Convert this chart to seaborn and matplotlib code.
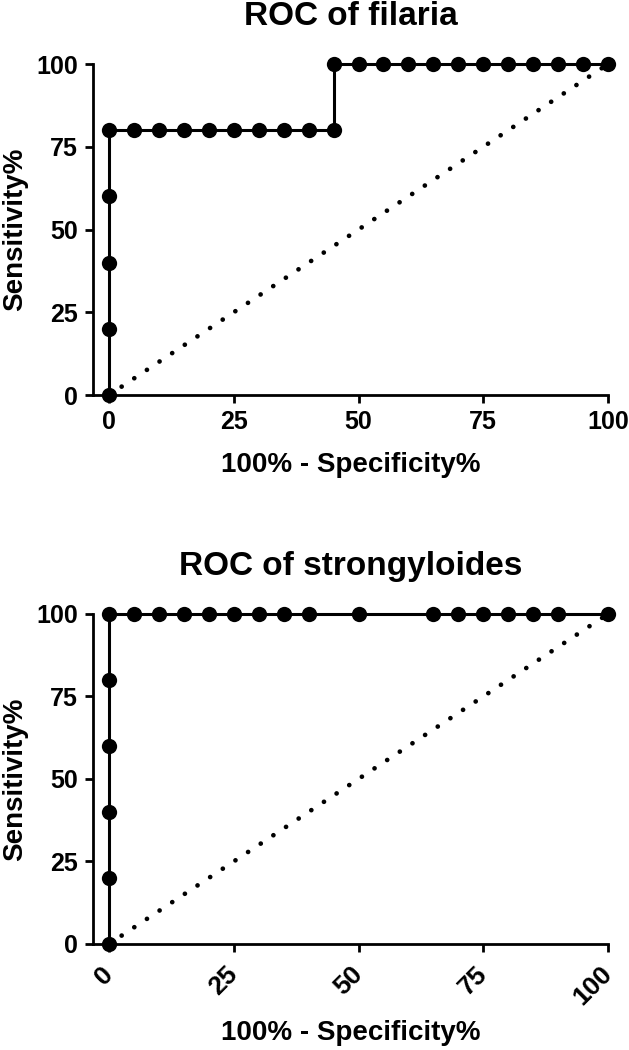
import numpy as np
import pandas as pd
import matplotlib.pyplot as plt
import seaborn as sns

# ROC points (100% - Specificity%, Sensitivity%)
filaria_fpr = [0, 0, 0, 0, 0, 5, 10, 15, 20, 25, 30, 35, 40, 45,
               45, 50, 55, 60, 65, 70, 75, 80, 85, 90, 95, 100]
filaria_sens = [0, 20, 40, 60, 80, 80, 80, 80, 80, 80, 80, 80, 80, 80,
                100, 100, 100, 100, 100, 100, 100, 100, 100, 100, 100, 100]

strongy_fpr = [0, 0, 0, 0, 0, 0, 5, 10, 15, 20, 25, 30, 35, 40,
               50, 65, 70, 75, 80, 85, 90, 100]
strongy_sens = [0, 20, 40, 60, 80, 100, 100, 100, 100, 100, 100, 100, 100, 100,
                100, 100, 100, 100, 100, 100, 100, 100]

ref_line = [0, 100]
ticks = [0, 25, 50, 75, 100]

sns.set_theme(style="ticks")
plt.rcParams['font.family'] = ['Liberation Sans', 'DejaVu Sans']
plt.rcParams['font.weight'] = 'bold'
plt.rcParams['axes.labelweight'] = 'bold'
plt.rcParams['axes.titleweight'] = 'bold'
plt.rcParams['text.color'] = 'black'
plt.rcParams['axes.labelcolor'] = 'black'

fig = plt.figure(figsize=(6.29, 10.5), dpi=100)
ax_top = fig.add_axes([0.1479, 0.6238, 0.8188, 0.3152])
ax_bot = fig.add_axes([0.1479, 0.1010, 0.8188, 0.3143])


def draw_roc(ax, fpr, sens, title, rotate=False):
    df = pd.DataFrame({'fpr': fpr, 'sens': sens})
    sns.lineplot(data=df, x='fpr', y='sens', ax=ax, sort=False, estimator=None,
                 color='black', linewidth=2.2, marker='o', markersize=11,
                 markeredgewidth=0, clip_on=False, zorder=3)
    # diagonale de référence (hasard)
    ax.plot(ref_line, ref_line, color='black', linewidth=3.4,
            dashes=(0.01, 3.2), dash_capstyle='round', clip_on=False, zorder=2)

    ax.set_xlim(-3.2, 100)
    ax.set_ylim(0, 100)
    ax.set_xticks(ticks)
    ax.set_yticks(ticks)
    sns.despine(ax=ax)
    for side in ['left', 'bottom']:
        ax.spines[side].set_linewidth(2)
        ax.spines[side].set_color('black')
    ax.tick_params(direction='out', length=6, width=2, colors='black',
                   labelsize=18, pad=5)

    ax.set_title(title, fontsize=24, fontweight='bold', pad=28, color='black')
    ax.set_ylabel('Sensitivity%', fontsize=20, fontweight='bold', labelpad=6)
    if rotate:
        for lab in ax.get_xticklabels():
            lab.set_rotation(45)
            lab.set_ha('right')
            lab.set_va('center')
            lab.set_rotation_mode('anchor')
            lab.set_fontsize(19)
        ax.tick_params(axis='x', pad=13)
        ax.set_xlabel('100% - Specificity%', fontsize=20, fontweight='bold',
                      labelpad=7)
    else:
        ax.set_xlabel('100% - Specificity%', fontsize=20, fontweight='bold',
                      labelpad=13)


draw_roc(ax_top, filaria_fpr, filaria_sens, 'ROC of filaria')
draw_roc(ax_bot, strongy_fpr, strongy_sens, 'ROC of strongyloides', rotate=True)

fig.savefig('out.png', dpi=100)
